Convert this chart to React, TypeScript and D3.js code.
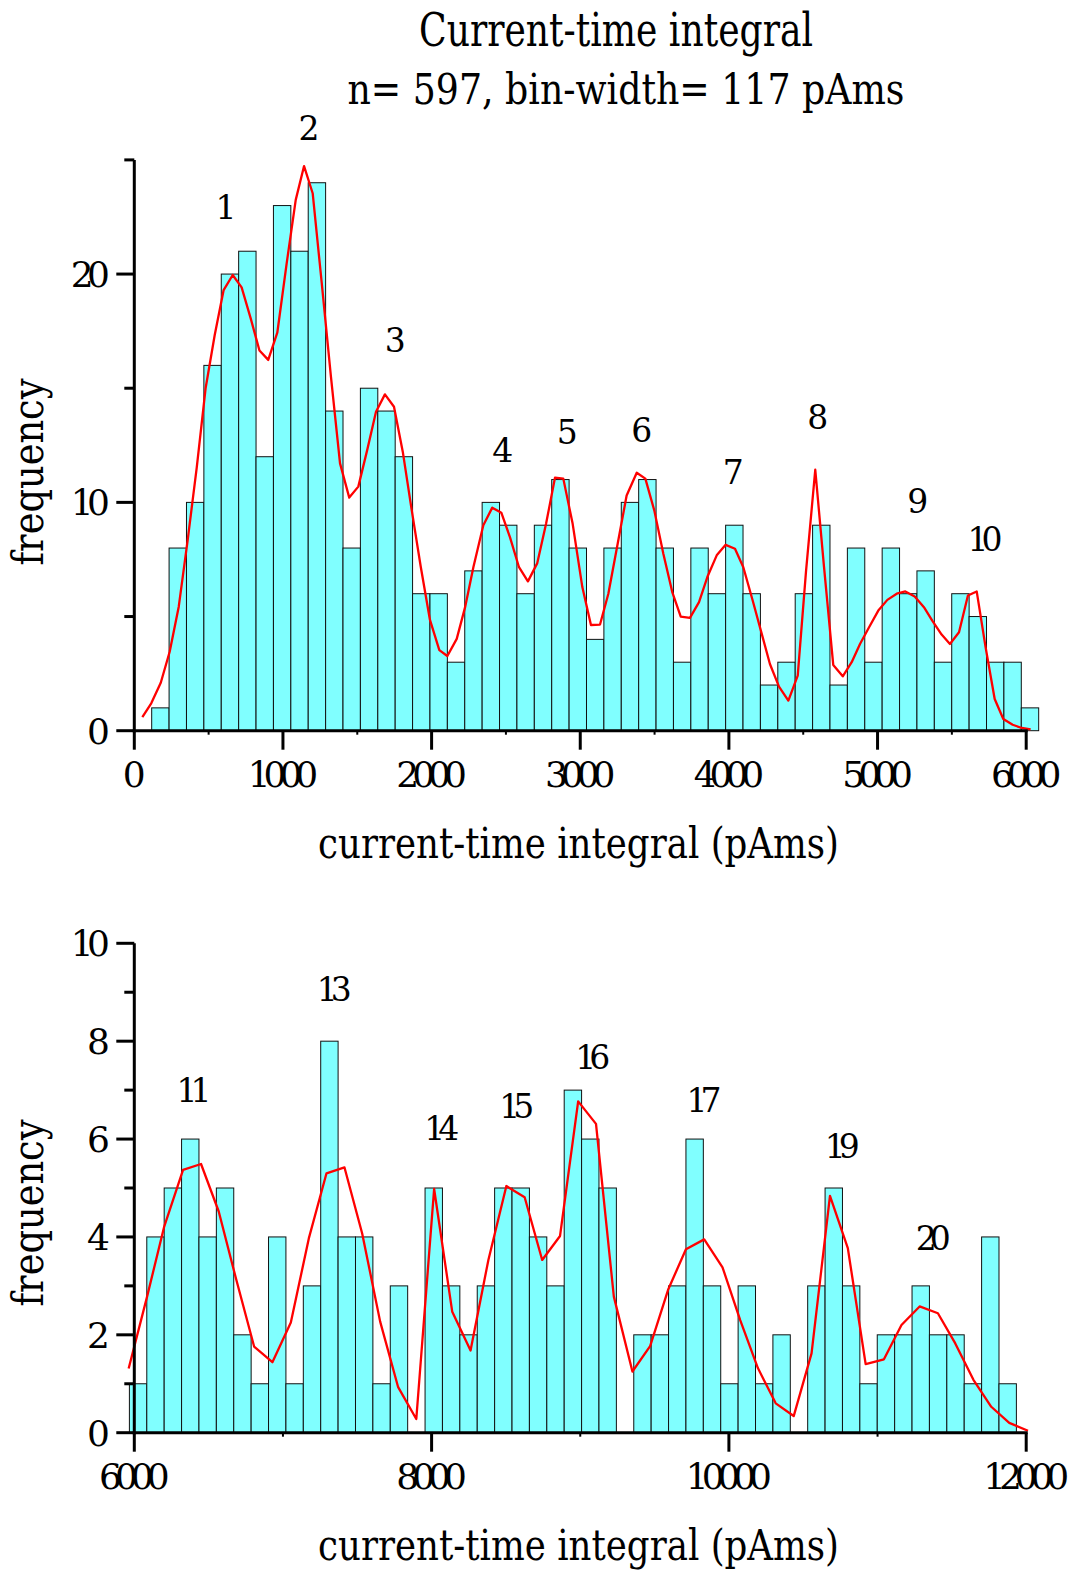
import React from 'react';
import * as d3 from 'd3';

// ---------- data ----------
const BIN_WIDTH = 117;

// top panel histogram: bins 1..51 (bin k spans [k*117, (k+1)*117])
const topFirstBin = 1;
const topCounts = [1, 8, 10, 16, 20, 21, 12, 23, 21, 24, 14, 8, 15, 14, 12, 6, 6, 3, 7, 10, 9, 6, 9, 11, 8, 4, 8, 10, 11, 8, 3, 8, 6, 9, 6, 2, 3, 6, 9, 2, 8, 3, 8, 6, 7, 3, 6, 5, 3, 3, 1];

// bottom panel histogram: bins 51..101
const bottomFirstBin = 51;
const bottomCounts = [1, 4, 5, 6, 4, 5, 2, 1, 4, 1, 3, 8, 4, 4, 1, 3, 0, 5, 3, 2, 3, 5, 5, 4, 3, 7, 6, 5, 0, 2, 2, 3, 6, 3, 1, 3, 1, 2, 0, 3, 5, 3, 1, 2, 2, 3, 2, 2, 1, 4, 1];

// smoothed fit curves (red)
const topCurveX = [54, 114, 178, 238, 299, 359, 420, 480, 541, 601, 662, 722, 783, 842, 901, 962, 1025, 1086, 1142, 1200, 1261, 1323, 1384, 1446, 1507, 1567, 1626, 1686, 1747, 1806, 1866, 1927, 1989, 2052, 2106, 2169, 2225, 2281, 2348, 2408, 2469, 2527, 2588, 2648, 2711, 2770, 2830, 2886, 2949, 3014, 3072, 3133, 3189, 3252, 3312, 3380, 3438, 3498, 3559, 3619, 3676, 3738, 3799, 3855, 3918, 3978, 4041, 4097, 4160, 4221, 4276, 4337, 4400, 4463, 4519, 4581, 4640, 4702, 4766, 4826, 4882, 4943, 5005, 5066, 5129, 5187, 5250, 5312, 5368, 5431, 5487, 5548, 5608, 5667, 5727, 5788, 5846, 5909, 5970, 6030];
const topCurveY = [0.59, 1.2, 2.1, 3.46, 5.43, 8.35, 11.52, 15.01, 17.33, 19.3, 19.96, 19.42, 18.06, 16.65, 16.24, 17.43, 20.47, 23.25, 24.73, 23.54, 19.6, 15.5, 11.71, 10.21, 10.69, 12.3, 13.97, 14.73, 14.19, 12.22, 9.67, 7.18, 4.85, 3.53, 3.27, 4.02, 5.4, 7.16, 9.0, 9.77, 9.55, 8.48, 7.16, 6.54, 7.34, 9.06, 11.08, 11.04, 9.06, 6.29, 4.63, 4.65, 6.0, 8.2, 10.3, 11.3, 11.04, 9.65, 7.75, 6.07, 5.0, 4.94, 5.63, 6.73, 7.68, 8.14, 7.97, 7.16, 5.7, 4.24, 2.92, 1.93, 1.32, 2.41, 7.0, 11.43, 7.16, 2.88, 2.38, 3.0, 3.8, 4.53, 5.26, 5.73, 6.0, 6.1, 5.88, 5.41, 4.82, 4.21, 3.8, 4.31, 5.92, 6.1, 3.65, 1.39, 0.51, 0.26, 0.12, 0.06];

const bottomCurveX = [5962, 6086, 6200, 6328, 6449, 6568, 6684, 6806, 6929, 7053, 7174, 7293, 7414, 7533, 7654, 7775, 7897, 8017, 8139, 8262, 8382, 8503, 8626, 8744, 8864, 8986, 9106, 9226, 9351, 9470, 9591, 9711, 9834, 9957, 10076, 10195, 10315, 10436, 10556, 10680, 10800, 10920, 11043, 11161, 11283, 11406, 11522, 11645, 11765, 11886, 12012];
const bottomCurveY = [1.31, 2.78, 4.2, 5.37, 5.49, 4.52, 3.15, 1.76, 1.44, 2.25, 3.97, 5.3, 5.42, 4.07, 2.27, 0.93, 0.28, 4.98, 2.47, 1.68, 3.53, 5.04, 4.81, 3.53, 4.02, 6.77, 6.31, 2.78, 1.25, 1.77, 2.92, 3.75, 3.95, 3.38, 2.3, 1.32, 0.6, 0.34, 1.62, 4.84, 3.77, 1.4, 1.5, 2.2, 2.58, 2.44, 1.83, 1.08, 0.53, 0.2, 0.04];

// peak annotations (label, x in pAms, y in frequency)
const topPeakLabels = ['1', '2', '3', '4', '5', '6', '7', '8', '9', '10'];
const topPeakX = [617, 1175, 1756, 2478, 2913, 3413, 4029, 4597, 5270, 5723];
const topPeakY = [22.95, 26.4, 17.13, 12.3, 13.1, 13.17, 11.34, 13.75, 10.07, 8.38];
const bottomPeakLabels = ['11', '13', '14', '15', '16', '17', '19', '20'];
const bottomPeakX = [6402, 7345, 8068, 8572, 9084, 9832, 10763, 11375];
const bottomPeakY = [7.0, 9.06, 6.23, 6.68, 7.67, 6.8, 5.86, 3.97];

// axes
const topXTicks = [0, 1000, 2000, 3000, 4000, 5000, 6000];
const topXMinor = [500, 1500, 2500, 3500, 4500, 5500];
const topYTicks = [0, 10, 20];
const topYMinor = [5, 15, 25];
const bottomXTicks = [6000, 8000, 10000, 12000];
const bottomXMinor = [7000, 9000, 11000];
const bottomYTicks = [0, 2, 4, 6, 8, 10];
const bottomYMinor = [1, 3, 5, 7, 9];

const titleLine1 = 'Current-time integral';
const titleLine2 = 'n= 597, bin-width= 117 pAms';
const xTitle = 'current-time integral (pAms)';
const yTitle = 'frequency';

const FONT = "'DejaVu Serif', serif";
const BAR_FILL = '#80FFFF';

function numLen(s: string) {
  if (s.length <= 1) return undefined;
  return 4 + 19.7 + (s.length - 1) * 15.6;
}

type PanelProps = {
  counts: number[];
  firstBin: number;
  curveX: number[];
  curveY: number[];
  labels: string[];
  labelX: number[];
  labelY: number[];
  xDomain: [number, number];
  yDomain: [number, number];
  yRange: [number, number];
  xTicks: number[];
  xMinor: number[];
  yTicks: number[];
  yMinor: number[];
  yTitleY: number;
};

function Panel(p: PanelProps) {
  const x = d3.scaleLinear().domain(p.xDomain).range([134.3, 1026.2]);
  const y = d3.scaleLinear().domain(p.yDomain).range(p.yRange);
  const y0 = y(0);
  const line = d3
    .line<number>()
    .x((_, i) => x(p.curveX[i]))
    .y((d) => y(d));
  const bars = p.counts.map((c, i) => {
    const start = (p.firstBin + i) * BIN_WIDTH;
    return { start, end: start + BIN_WIDTH, c };
  });
  const yTop = y(p.yDomain[1]);
  return (
    <g>
      {bars
        .filter((b) => b.c > 0)
        .map((b, i) => (
          <rect
            key={i}
            x={x(b.start)}
            y={y(b.c)}
            width={x(b.end) - x(b.start)}
            height={y0 - y(b.c)}
            fill={BAR_FILL}
            stroke="#111"
            strokeWidth={1}
          />
        ))}
      <path d={line(p.curveY) || ''} fill="none" stroke="#FF0000" strokeWidth={2.3} strokeLinejoin="round" />
      {/* axes */}
      <line x1={x.range()[0] - 1.5} x2={x.range()[1] + 1.5} y1={y0} y2={y0} stroke="#000" strokeWidth={3} />
      <line x1={134.3} x2={134.3} y1={yTop} y2={y0 + 1.5} stroke="#000" strokeWidth={3} />
      {p.xTicks.map((t) => (
        <line key={'xt' + t} x1={x(t)} x2={x(t)} y1={y0} y2={y0 + 19} stroke="#000" strokeWidth={3} />
      ))}
      {p.xMinor.map((t) => (
        <line key={'xm' + t} x1={x(t)} x2={x(t)} y1={y0} y2={y0 + 4} stroke="#000" strokeWidth={2} />
      ))}
      {p.yTicks.map((t) => (
        <line key={'yt' + t} x1={134.3 - 18} x2={134.3} y1={y(t)} y2={y(t)} stroke="#000" strokeWidth={3} />
      ))}
      {p.yMinor.map((t) => (
        <line key={'ym' + t} x1={134.3 - 10} x2={134.3} y1={y(t)} y2={y(t)} stroke="#000" strokeWidth={3} />
      ))}
      {p.xTicks.map((t) => {
        const s = String(t);
        return (
          <text
            key={'xl' + t}
            x={x(t)}
            y={y0 + 56}
            fontFamily={FONT}
            fontSize={36}
            textAnchor="middle"
            textLength={numLen(s)}
            lengthAdjust="spacing"
          >
            {s}
          </text>
        );
      })}
      {p.yTicks.map((t) => {
        const s = String(t);
        return (
          <text
            key={'yl' + t}
            x={110}
            y={y(t) + 13}
            fontFamily={FONT}
            fontSize={36}
            textAnchor="end"
            textLength={numLen(s)}
            lengthAdjust="spacing"
          >
            {s}
          </text>
        );
      })}
      {p.labels.map((l, i) => (
        <text
          key={'pk' + i}
          x={x(p.labelX[i])}
          y={y(p.labelY[i]) + 12}
          fontFamily={FONT}
          fontSize={33}
          textAnchor="middle"
          textLength={l.length > 1 ? 35 : undefined}
          lengthAdjust="spacing"
        >
          {l}
        </text>
      ))}
      <text
        x={578.5}
        y={y0 + 127}
        fontFamily={FONT}
        fontSize={42}
        textAnchor="middle"
        textLength={521}
        lengthAdjust="spacingAndGlyphs"
      >
        {xTitle}
      </text>
      <text
        transform={`translate(43,${p.yTitleY}) rotate(-90)`}
        fontFamily={FONT}
        fontSize={42}
        textAnchor="middle"
        textLength={187}
        lengthAdjust="spacingAndGlyphs"
      >
        {yTitle}
      </text>
    </g>
  );
}

export default function App() {
  return (
    <svg
      width={1077}
      height={1571}
      viewBox="0 0 1077 1571"
      style={{ position: 'absolute', left: 0, top: 0, background: '#fff' }}
    >
      <rect x={0} y={0} width={1077} height={1571} fill="#fff" />
      <text x={616} y={46} fontFamily={FONT} fontSize={46} textAnchor="middle" textLength={394} lengthAdjust="spacingAndGlyphs">
        {titleLine1}
      </text>
      <text x={626} y={104} fontFamily={FONT} fontSize={43} textAnchor="middle" textLength={557} lengthAdjust="spacingAndGlyphs">
        {titleLine2}
      </text>
      <Panel
        counts={topCounts}
        firstBin={topFirstBin}
        curveX={topCurveX}
        curveY={topCurveY}
        labels={topPeakLabels}
        labelX={topPeakX}
        labelY={topPeakY}
        xDomain={[0, 6000]}
        yDomain={[0, 25]}
        yRange={[730.7, 159.9]}
        xTicks={topXTicks}
        xMinor={topXMinor}
        yTicks={topYTicks}
        yMinor={topYMinor}
        yTitleY={472}
      />
      <Panel
        counts={bottomCounts}
        firstBin={bottomFirstBin}
        curveX={bottomCurveX}
        curveY={bottomCurveY}
        labels={bottomPeakLabels}
        labelX={bottomPeakX}
        labelY={bottomPeakY}
        xDomain={[6000, 12000]}
        yDomain={[0, 10]}
        yRange={[1432.7, 943.3]}
        xTicks={bottomXTicks}
        xMinor={bottomXMinor}
        yTicks={bottomYTicks}
        yMinor={bottomYMinor}
        yTitleY={1213}
      />
    </svg>
  );
}
